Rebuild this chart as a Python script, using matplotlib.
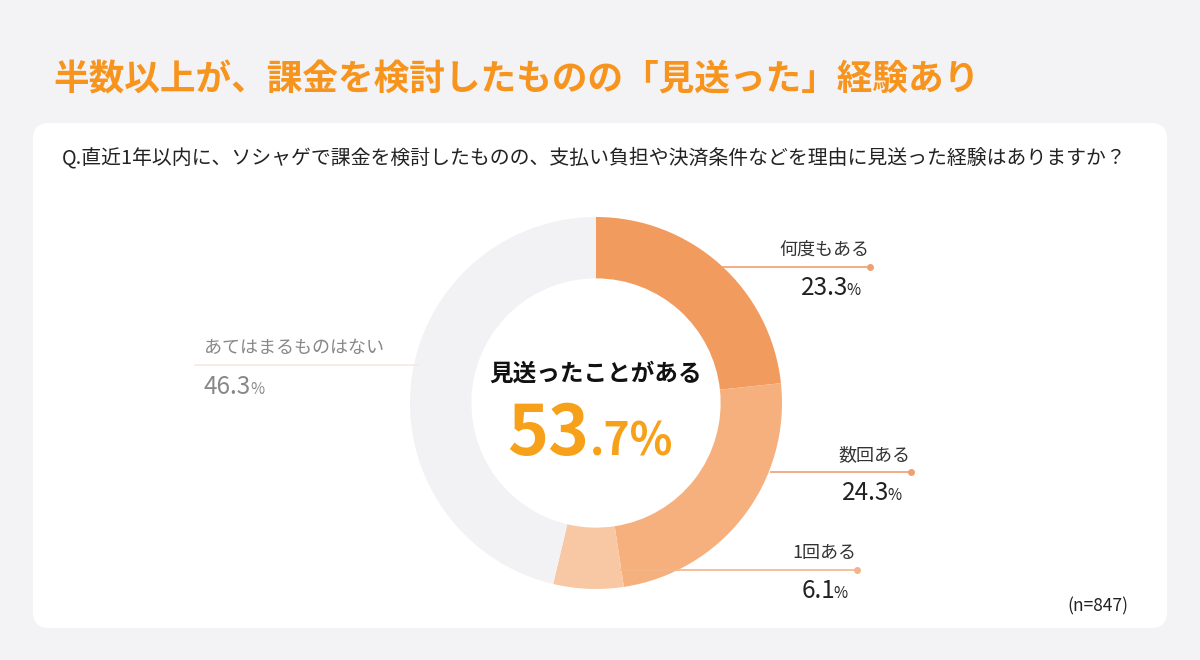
import matplotlib
matplotlib.use("Agg")
import matplotlib.pyplot as plt
from matplotlib.patches import FancyBboxPatch

plt.rcParams['font.family'] = ['Noto Sans CJK JP', 'DejaVu Sans']

# ---- data ----
categories = ["何度もある", "数回ある", "1回ある", "あてはまるものはない"]
values = [23.3, 24.3, 6.1, 46.3]
colors = ["#f29b5f", "#f6b07e", "#f8c8a4", "#f2f1f4"]
title = "半数以上が、課金を検討したものの「見送った」経験あり"
question = "Q.直近1年以内に、ソシャゲで課金を検討したものの、支払い負担や決済条件などを理由に見送った経験はありますか？"
center_label = "見送ったことがある"
center_int = "53"
center_dec = ".7%"
n_label = "(n=847)"

W, H = 1200, 660
fig = plt.figure(figsize=(W / 100, H / 100), dpi=100)
fig.patch.set_facecolor("#f3f2f5")

# background axes (pixel coordinates)
bg = fig.add_axes([0, 0, 1, 1], zorder=0)
bg.set_xlim(0, W)
bg.set_ylim(H, 0)
bg.axis("off")
card = FancyBboxPatch((33, 123), 1134, 505, boxstyle="round,pad=0,rounding_size=16",
                      facecolor="white", edgecolor="none")
bg.add_patch(card)
bg.text(53, 80, title, fontsize=25.7, fontweight="bold", color="#f7941d",
        ha="left", va="center")
bg.text(62, 158, question, fontsize=14.3, color="#222222", ha="left", va="center")

# donut axes
cx, cy, r = 596, 403, 186
pie_ax = fig.add_axes([(cx - r) / W, (H - cy - r) / H, 2 * r / W, 2 * r / H], zorder=1)
pie_ax.pie(values, colors=colors, startangle=90, counterclock=False, radius=1,
           wedgeprops=dict(width=0.33, edgecolor="none"))
pie_ax.set_xlim(-1, 1)
pie_ax.set_ylim(-1, 1)
pie_ax.set_aspect("equal")
pie_ax.axis("off")

# overlay axes for labels
ov = fig.add_axes([0, 0, 1, 1], zorder=2)
ov.set_xlim(0, W)
ov.set_ylim(H, 0)
ov.axis("off")
ov.patch.set_alpha(0)

ov.text(cx, 374, center_label, fontsize=17, fontweight="bold", color="#111111",
        ha="center", va="center")
ov.text(589, 455, center_int, fontsize=50, fontweight="bold", color="#f7a019",
        ha="right", va="baseline")
ov.text(590, 455, center_dec, fontsize=32, fontweight="bold", color="#f7a019",
        ha="left", va="baseline")

# leader labels
leaders = [
    (722, 870, 267, 0, "#f0a070"),
    (770, 911, 472, 1, "#f0a070"),
    (620, 857, 570, 2, "#f3b48c"),
]
for x0, x1, y, i, lc in leaders:
    ov.plot([x0, x1], [y, y], color=lc, lw=1.2, solid_capstyle="butt")
    ov.plot([x1], [y], marker="o", ms=4, color=lc)
    ov.text(x1 - 1, y - 17, categories[i], fontsize=13, color="#333333",
            ha="right", va="center")
    ov.text(x1 - 22, y + 28, f"{values[i]:.1f}", fontsize=17.5, color="#222222",
            ha="right", va="baseline")
    ov.text(x1 - 24, y + 28, "%", fontsize=11, color="#222222", ha="left", va="baseline")

# gray leader (あてはまるものはない)
ov.plot([195, 418], [365, 365], color="#f6e9e6", lw=1.2)
ov.text(204, 348, categories[3], fontsize=13, color="#888888", ha="left", va="center")
ov.text(204, 394, f"{values[3]:.1f}", fontsize=17.5, color="#888888", ha="left", va="baseline")
ov.text(250, 394, "%", fontsize=11, color="#888888", ha="left", va="baseline")

ov.text(1098, 606, n_label, fontsize=12.5, color="#222222", ha="center", va="center")

fig.savefig("out.png", dpi=100, facecolor=fig.get_facecolor())
